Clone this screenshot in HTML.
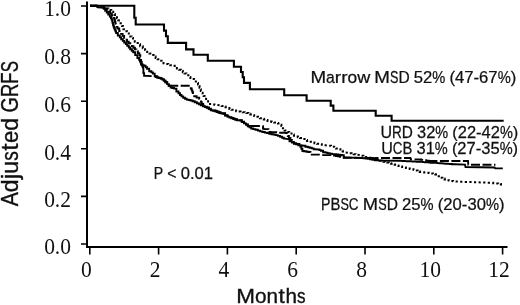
<!DOCTYPE html>
<html><head><meta charset="utf-8"><style>
html,body{margin:0;padding:0;background:#fff;width:520px;height:305px;overflow:hidden}
svg{display:block;will-change:transform}
.serif{font-family:"Liberation Serif",serif;font-size:21.5px;fill:#111}
.sans{font-family:"Liberation Sans",sans-serif;fill:#111}
</style></head><body>
<svg width="520" height="305" viewBox="0 0 520 305">
<g stroke="#000" fill="none" stroke-linecap="butt">
<path d="M 87 1.5 V 248" stroke-width="2"/>
<path d="M 86 247 H 507.5" stroke-width="1.8"/>
<path d="M 81 6.0 H 87 M 81 53.6 H 87 M 81 101.2 H 87 M 81 148.8 H 87 M 81 196.4 H 87 M 81 244.0 H 87" stroke-width="1.6"/>
<path d="M 89.8 247 V 254.5 M 158.6 247 V 254.5 M 227.4 247 V 254.5 M 296.2 247 V 254.5 M 365.0 247 V 254.5 M 433.8 247 V 254.5 M 502.6 247 V 254.5" stroke-width="1.6"/>
</g>
<g class="serif"><text transform="translate(71 15.5) scale(1 1.06)" text-anchor="end">1.0</text><text transform="translate(71 63.5) scale(1 1.06)" text-anchor="end">0.8</text><text transform="translate(71 111.7) scale(1 1.06)" text-anchor="end">0.6</text><text transform="translate(71 159.9) scale(1 1.06)" text-anchor="end">0.4</text><text transform="translate(71 206.8) scale(1 1.06)" text-anchor="end">0.2</text><text transform="translate(71 254.1) scale(1 1.06)" text-anchor="end">0.0</text><text transform="translate(86.3 277) scale(1 1.06)" text-anchor="middle">0</text><text transform="translate(155.1 277) scale(1 1.06)" text-anchor="middle">2</text><text transform="translate(223.9 277) scale(1 1.06)" text-anchor="middle">4</text><text transform="translate(292.7 277) scale(1 1.06)" text-anchor="middle">6</text><text transform="translate(361.5 277) scale(1 1.06)" text-anchor="middle">8</text><text transform="translate(430.3 277) scale(1 1.06)" text-anchor="middle">10</text><text transform="translate(499.1 277) scale(1 1.06)" text-anchor="middle">12</text></g>
<g fill="none" stroke="#000" stroke-linejoin="miter">
<path d="M 90.0 5.8 97.0 5.8 97.5 7.2 103.0 7.5 104.0 7.5 104.0 8.0 106.0 8.0 106.0 8.5 107.0 8.5 108.5 8.5 108.5 9.9 109.9 9.9 111.3 9.9 111.3 11.7 112.8 11.7 113.2 11.7 113.2 14.2 113.5 14.2 115.0 14.2 115.0 16.0 116.4 16.0 117.0 16.0 117.0 18.2 117.5 18.2 118.2 18.2 118.2 20.3 118.9 20.3 119.7 20.7 120.6 20.7 120.6 23.2 121.5 23.2 122.0 23.2 122.0 26.1 122.6 26.1 122.9 26.1 122.9 27.7 123.4 27.7 123.4 29.3 123.7 29.3 125.0 29.3 125.0 31.2 126.2 31.2 127.0 31.2 127.0 32.0 127.8 32.0 128.8 32.0 128.8 34.9 129.7 34.9 130.3 34.9 130.3 36.4 131.6 36.4 131.6 37.9 132.2 37.9 133.0 37.9 133.0 39.8 134.8 39.8 134.8 41.8 135.6 41.8 136.3 41.8 136.3 43.0 137.8 43.0 137.8 44.3 138.6 44.3 140.1 44.3 140.1 46.2 141.5 46.2 142.8 46.2 142.8 48.2 144.0 48.2 145.1 48.2 145.1 50.1 147.2 50.1 147.2 52.0 148.3 52.0 149.4 52.0 149.4 53.5 151.6 53.5 151.6 55.0 152.7 55.0 153.7 55.0 153.7 56.5 155.6 56.5 155.6 57.9 156.6 57.9 157.6 57.9 157.6 59.3 159.6 59.3 159.6 60.8 160.6 60.8 161.6 60.8 161.6 62.0 163.5 62.0 163.5 63.3 164.5 63.3 165.8 63.3 165.8 63.9 167.1 63.9 168.2 63.9 168.2 64.5 170.3 64.5 170.3 65.2 172.5 65.2 172.5 65.8 173.6 65.8 174.7 65.8 174.7 67.1 176.9 67.1 176.9 68.4 179.1 68.4 179.1 69.7 180.2 69.7 181.1 69.7 181.1 71.0 182.8 71.0 182.8 72.3 184.5 72.3 184.5 73.6 185.4 73.6 186.4 73.6 186.4 75.2 188.4 75.2 188.4 76.9 189.4 76.9 190.4 76.9 190.4 77.9 192.3 77.9 192.3 78.9 193.3 78.9 194.1 78.9 194.1 80.2 195.8 80.2 195.8 81.5 196.6 81.5 197.1 81.5 197.1 83.0 198.0 83.0 198.0 84.5 198.5 84.5 198.8 84.5 198.8 86.1 199.5 86.1 199.5 87.7 199.8 87.7 200.1 87.7 200.1 89.3 200.8 89.3 200.8 91.0 201.1 91.0 201.6 91.0 201.6 92.7 202.6 92.7 202.6 94.3 203.1 94.3 203.6 94.3 203.6 95.9 204.6 95.9 204.6 97.6 205.1 97.6 206.1 97.6 206.1 100.2 207.1 100.2 208.1 100.2 208.1 102.8 209.0 102.8 210.0 102.8 210.0 104.1 211.0 104.1 212.2 104.1 212.2 104.4 214.5 104.4 214.5 104.8 215.7 104.8 220.6 105.3 221.6 105.3 221.6 106.0 223.6 106.0 223.6 106.6 225.5 106.6 225.5 107.3 226.5 107.3 227.5 107.3 227.5 108.1 229.4 108.1 229.4 108.9 231.4 108.9 231.4 109.7 232.4 109.7 233.6 109.7 233.6 110.5 236.1 110.5 236.1 111.2 237.3 111.2 238.4 111.2 238.4 111.6 240.6 111.6 240.6 111.9 241.7 111.9 242.7 111.9 242.7 112.3 244.6 112.3 244.6 112.6 246.5 112.6 246.5 113.0 247.5 113.0 248.4 113.0 248.4 113.8 250.3 113.8 250.3 114.5 252.2 114.5 252.2 115.3 253.2 115.3 254.2 115.3 254.2 116.1 256.1 116.1 256.1 116.8 258.0 116.8 258.0 117.6 259.0 117.6 259.9 117.6 259.9 118.2 261.9 118.2 261.9 118.8 263.8 118.8 263.8 119.4 264.7 119.4 265.6 119.4 265.6 120.1 267.5 120.1 267.5 120.9 269.4 120.9 269.4 121.6 270.4 121.6 271.6 121.6 271.6 122.0 274.1 122.0 274.1 122.5 275.4 122.5 276.3 122.5 276.3 123.0 278.0 123.0 278.0 123.6 278.9 123.6 279.8 123.6 279.8 124.8 281.4 124.8 281.4 125.9 282.3 125.9 282.9 125.9 282.9 128.2 283.5 128.2 284.6 128.2 284.6 130.5 285.8 130.5 286.9 130.5 286.9 131.9 289.2 131.9 289.2 133.4 290.4 133.4 291.5 133.4 291.5 134.6 293.9 134.6 293.9 135.7 295.0 135.7 296.0 135.7 296.0 136.4 297.9 136.4 297.9 137.2 299.9 137.2 299.9 137.9 300.9 137.9 302.1 137.9 302.1 138.9 304.6 138.9 304.6 139.9 305.8 139.9 307.0 139.9 307.0 140.9 309.5 140.9 309.5 141.8 310.7 141.8 311.9 141.8 311.9 142.6 314.4 142.6 314.4 143.3 315.7 143.3 316.9 143.3 316.9 143.8 319.4 143.8 319.4 144.3 320.6 144.3 321.8 144.3 321.8 144.8 324.3 144.8 324.3 145.3 325.5 145.3 330.4 145.8 331.1 145.8 331.1 146.2 332.6 146.2 332.6 146.7 333.4 146.7 334.2 146.7 334.2 147.9 335.0 147.9 336.0 147.9 336.0 148.6 337.9 148.6 337.9 149.3 338.9 149.3 340.4 149.3 340.4 150.8 341.8 150.8 342.6 150.8 342.6 151.6 344.1 151.6 344.1 152.3 344.8 152.3 348.7 152.8 349.7 152.8 349.7 153.3 351.6 153.3 351.6 153.8 352.6 153.8 353.6 153.8 353.6 154.2 355.6 154.2 355.6 154.7 356.6 154.7 360.5 155.2 361.5 155.2 361.5 155.7 363.4 155.7 363.4 156.2 364.4 156.2 365.6 156.2 365.6 156.9 368.1 156.9 368.1 157.7 369.4 157.7 370.3 157.7 370.3 158.2 372.2 158.2 372.2 158.8 374.1 158.8 374.1 159.3 375.0 159.3 375.9 159.3 375.9 159.8 377.8 159.8 377.8 160.2 379.7 160.2 379.7 160.7 381.6 160.7 381.6 161.2 383.4 161.2 383.4 161.7 385.3 161.7 385.3 162.1 387.2 162.1 387.2 162.6 388.1 162.6 389.0 162.6 389.0 163.2 390.9 163.2 390.9 163.7 392.8 163.7 392.8 164.3 394.6 164.3 394.6 164.8 396.5 164.8 396.5 165.4 398.4 165.4 398.4 165.9 400.3 165.9 400.3 166.5 401.2 166.5 402.1 166.5 402.1 167.0 404.0 167.0 404.0 167.4 405.9 167.4 405.9 167.9 407.8 167.9 407.8 168.4 409.7 168.4 409.7 168.9 411.6 168.9 411.6 169.3 413.5 169.3 413.5 169.8 414.4 169.8 415.5 169.8 415.5 170.5 417.6 170.5 417.6 171.3 419.7 171.3 419.7 172.0 420.8 172.0 421.9 172.0 421.9 172.2 424.2 172.2 424.2 172.4 426.4 172.4 426.4 172.7 428.7 172.7 428.7 172.9 429.8 172.9 430.9 172.9 430.9 173.4 433.1 173.4 433.1 174.0 435.3 174.0 435.3 174.5 436.4 174.5 437.6 174.5 437.6 176.2 440.1 176.2 440.1 177.8 441.3 177.8 442.4 177.8 442.4 178.6 444.6 178.6 444.6 179.4 446.8 179.4 446.8 180.2 447.9 180.2 448.9 180.2 448.9 180.6 451.0 180.6 451.0 180.9 453.1 180.9 453.1 181.3 454.2 181.3 461.0 181.8 477.4 182.3 492.0 182.8 493.2 182.8 493.2 183.2 495.8 183.2 495.8 183.5 497.0 183.5 498.2 183.5 498.2 184.0 500.8 184.0 500.8 184.5 502.0 184.5" stroke-width="2" stroke-dasharray="2.2 2.4"/>
<path d="M 90.0 5.8 97.0 5.8 97.5 7.2 103.0 7.5 103.8 7.5 103.8 8.1 105.2 8.1 105.2 8.6 106.0 8.6 106.9 8.6 106.9 10.1 108.6 10.1 108.6 11.5 109.5 11.5 110.2 11.5 110.2 13.5 111.8 13.5 111.8 15.5 112.5 15.5 113.0 15.5 113.0 17.0 114.0 17.0 114.0 18.5 114.5 18.5 114.7 18.5 114.7 20.2 115.0 20.2 115.0 22.0 115.2 22.0 115.4 22.0 115.4 23.7 115.8 23.7 115.8 25.4 116.0 25.4 116.5 25.4 116.5 26.9 117.5 26.9 117.5 28.5 118.0 28.5 119.2 28.5 119.2 31.0 120.3 31.0 121.1 31.0 121.1 33.9 121.9 33.9 122.6 33.9 122.6 35.9 124.1 35.9 124.1 37.9 124.8 37.9 125.5 37.9 125.5 39.8 127.0 39.8 127.0 41.8 127.8 41.8 128.7 41.8 128.7 43.2 130.3 43.2 130.3 44.7 131.2 44.7 131.9 44.7 131.9 46.2 133.4 46.2 133.4 47.7 134.2 47.7 134.9 47.7 134.9 49.4 136.4 49.4 136.4 51.1 137.1 51.1 137.8 51.1 137.8 53.1 139.3 53.1 139.3 55.1 140.1 55.1 140.3 55.1 140.3 56.8 140.8 56.8 140.8 58.5 141.0 58.5 141.3 62.0" stroke-width="1.9" stroke-dasharray="9 2.5" stroke-dashoffset="0"/>
<path d="M 141.3 62.0 141.7 62.0 141.7 64.3 142.5 64.3 142.5 66.7 142.9 66.7 143.4 69.7 143.4 73.1 144.1 73.1 144.1 75.8 144.8 75.8 151.7 76.1" stroke-width="1.9"/>
<path d="M 151.7 76.1 155.0 76.5 155.9 76.5 155.9 77.0 157.7 77.0 157.7 77.6 158.6 77.6 159.3 77.6 159.3 78.0 160.8 78.0 160.8 78.5 161.6 78.5 162.3 78.5 162.3 79.5 163.8 79.5 163.8 80.6 164.6 80.6 165.4 80.6 165.4 82.3 167.2 82.3 167.2 84.0 168.0 84.0 168.6 84.0 168.6 85.8 169.2 85.8" stroke-width="1.9" stroke-dasharray="9 2.5" stroke-dashoffset="9"/>
<path d="M 169.2 85.8 189.0 85.8 189.7 85.8 189.7 86.5 190.4 86.5 190.8 86.5 190.8 88.5 191.7 88.5 191.7 90.4 192.1 90.4 192.4 90.4 192.4 92.2 193.0 92.2 193.0 94.0 193.3 94.0 194.2 94.0 194.2 96.3 195.2 96.3 196.6 96.3 196.6 97.6 197.9 97.6 199.2 97.6 199.2 98.9 200.5 98.9 201.1 102.2 201.8 102.2 201.8 104.0 203.2 104.0 203.2 105.8 203.9 105.8 204.9 105.8 204.9 106.7 206.8 106.7 206.8 107.5 207.8 107.5 208.8 107.5 208.8 108.7 210.8 108.7 210.8 109.8 211.8 109.8 212.8 109.8 212.8 110.3 214.7 110.3 214.7 110.8 215.7 110.8 216.7 110.8 216.7 111.5 218.6 111.5 218.6 112.3 219.6 112.3 220.6 112.3 220.6 112.8 222.6 112.8 222.6 113.3 223.6 113.3 225.1 113.3 225.1 115.2 226.5 115.2 227.5 115.2 227.5 116.2 229.4 116.2 229.4 117.2 230.4 117.2 231.4 117.2 231.4 118.0 233.4 118.0 233.4 118.7 234.4 118.7 235.3 118.7 235.3 119.2 237.1 119.2 237.1 119.8 238.0 119.8 240.6 120.2 241.8 120.2 241.8 121.6 244.0 121.6 244.0 123.0 245.2 123.0 246.0 123.0 246.0 124.4 247.8 124.4 247.8 125.8 248.6 125.8 250.9 126.0" stroke-width="1.9" stroke-dasharray="9 2.5" stroke-dashoffset="0"/>
<path d="M 250.9 126.0 260.1 126.0 262.4 126.2 263.0 126.2 263.0 128.5 263.6 128.5 264.1 129.1 267.6 129.1 268.5 129.1 268.5 132.0 269.3 132.0 270.3 132.0 270.3 132.1 272.2 132.1 272.2 132.2 274.2 132.2 274.2 132.3 276.2 132.3 276.2 132.4 278.1 132.4 278.1 132.6 280.1 132.6 280.1 132.7 282.1 132.7 282.1 132.8 284.1 132.8 284.1 132.9 286.0 132.9 286.0 133.0 287.0 133.0 287.3 133.0 287.3 134.5 287.8 134.5 287.8 136.0 288.1 136.0 288.9 136.0 288.9 138.0 290.4 138.0 290.4 140.0 291.9 140.0 291.9 142.0 292.7 142.0 293.9 142.0 293.9 143.2 296.1 143.2 296.1 144.3 297.3 144.3 298.2 144.3 298.2 145.4 300.0 145.4 300.0 146.5 300.9 146.5 301.4 146.5 301.4 148.8 302.4 148.8 302.4 151.0 302.9 151.0" stroke-width="1.9" stroke-dasharray="9 2.5" stroke-dashoffset="0"/>
<path d="M 302.9 151.0 304.0 151.0 304.0 151.3 306.4 151.3 306.4 151.7 308.6 151.7 308.6 152.0 309.8 152.0 310.5 152.0 310.5 154.6 311.2 154.6 319.6 154.6 323.5 155.1 333.0 155.1 334.0 155.1 334.0 155.5 335.9 155.5 335.9 156.0 337.9 156.0 337.9 156.4 339.9 156.4 339.9 156.8 341.9 156.8 341.9 157.3 343.8 157.3 343.8 157.7 344.8 157.7 375.0 158.0" stroke-width="1.9" stroke-dasharray="9 2.5" stroke-dashoffset="0"/>
<path d="M 375.0 158.0 410.4 158.0 410.8 159.3 420.0 159.5 421.2 159.5 421.2 159.9 423.8 159.9 423.8 160.3 425.0 160.3 426.2 160.3 426.2 160.7 428.8 160.7 428.8 161.0 430.0 161.0" stroke-width="1.9" stroke-dasharray="9 2.5" stroke-dashoffset="5.5"/>
<path d="M 430.0 161.0 468.0 161.0 468.3 164.7 495.4 164.7" stroke-width="1.9" stroke-dasharray="9 2.5" stroke-dashoffset="1.6"/>
<path d="M 90.0 5.8 97.0 5.8 97.5 7.2 103.0 7.5 103.8 7.5 103.8 8.8 104.5 8.8 105.2 8.8 105.2 10.7 106.8 10.7 106.8 12.5 107.5 12.5 108.2 12.5 108.2 14.5 109.8 14.5 109.8 16.5 110.5 16.5 110.9 16.5 110.9 18.0 111.6 18.0 111.6 19.5 112.0 19.5 112.2 19.5 112.2 21.2 112.6 21.2 112.6 23.0 112.8 23.0 113.0 23.0 113.0 24.8 113.5 24.8 113.5 26.5 113.8 26.5 114.1 26.5 114.1 28.0 114.7 28.0 114.7 29.5 115.0 29.5 115.4 29.5 115.4 31.2 116.1 31.2 116.1 33.0 116.5 33.0 117.8 33.0 117.8 35.5 119.0 35.5 119.8 35.5 119.8 37.4 121.2 37.4 121.2 39.3 122.0 39.3 122.8 39.3 122.8 40.9 124.2 40.9 124.2 42.5 125.0 42.5 125.8 42.5 125.8 44.1 127.2 44.1 127.2 45.8 128.0 45.8 128.8 45.8 128.8 47.5 130.2 47.5 130.2 49.2 131.0 49.2 131.8 49.2 131.8 50.7 133.2 50.7 133.2 52.2 134.0 52.2 135.2 52.2 135.2 55.1 136.3 55.1 137.4 55.1 137.4 58.0 138.6 58.0 139.1 58.0 139.1 59.8 140.0 59.8 140.0 61.5 140.5 61.5 141.0 64.5 141.9 64.5 141.9 65.2 143.9 65.2 143.9 65.8 144.8 65.8 145.6 65.8 145.6 67.2 147.1 67.2 147.1 68.7 147.8 68.7 149.2 68.7 149.2 71.2 150.7 71.2 151.4 71.2 151.4 72.4 152.9 72.4 152.9 73.6 153.7 73.6 154.7 73.6 154.7 76.1 155.7 76.1 157.1 76.1 157.1 77.6 158.6 77.6 159.3 77.6 159.3 78.0 160.8 78.0 160.8 78.5 161.6 78.5 162.3 78.5 162.3 79.5 163.8 79.5 163.8 80.6 164.6 80.6 165.4 80.6 165.4 82.3 167.2 82.3 167.2 84.1 168.0 84.1 168.9 84.1 168.9 85.8 170.6 85.8 170.6 87.5 171.5 87.5 172.3 87.5 172.3 88.0 174.1 88.0 174.1 88.6 174.9 88.6 176.4 88.6 176.4 91.5 177.8 91.5 178.5 91.5 178.5 93.2 180.0 93.2 180.0 95.0 180.7 95.0 181.5 95.0 181.5 96.4 183.2 96.4 183.2 97.8 184.1 97.8 185.0 97.8 185.0 98.7 186.7 98.7 186.7 99.6 187.6 99.6 188.6 99.6 188.6 100.0 190.5 100.0 190.5 100.5 191.5 100.5 192.6 100.5 192.6 101.3 194.8 101.3 194.8 102.2 195.9 102.2 196.9 102.2 196.9 103.2 198.8 103.2 198.8 104.2 199.8 104.2 200.8 104.2 200.8 105.2 202.9 105.2 202.9 106.3 203.9 106.3 204.9 106.3 204.9 107.0 206.8 107.0 206.8 107.8 207.8 107.8 208.8 107.8 208.8 109.0 210.8 109.0 210.8 110.2 211.8 110.2 212.8 110.2 212.8 110.7 214.7 110.7 214.7 111.2 215.7 111.2 216.7 111.2 216.7 112.0 218.6 112.0 218.6 112.7 219.6 112.7 220.6 112.7 220.6 113.2 222.6 113.2 222.6 113.7 223.6 113.7 225.1 113.7 225.1 115.6 226.5 115.6 227.5 115.6 227.5 116.6 229.4 116.6 229.4 117.6 230.4 117.6 231.4 117.6 231.4 118.3 233.4 118.3 233.4 119.1 234.4 119.1 235.3 119.1 235.3 119.7 237.1 119.7 237.1 120.2 238.0 120.2 240.6 120.5 241.8 120.5 241.8 122.0 244.0 122.0 244.0 123.4 245.2 123.4 246.0 123.4 246.0 124.8 247.8 124.8 247.8 126.2 248.6 126.2 249.5 126.2 249.5 127.3 251.2 127.3 251.2 128.5 252.1 128.5 253.2 128.5 253.2 129.1 255.5 129.1 255.5 129.7 256.7 129.7 257.9 129.7 257.9 130.6 260.1 130.6 260.1 131.4 261.3 131.4 262.4 131.4 262.4 132.0 264.8 132.0 264.8 132.6 265.9 132.6 267.0 132.6 267.0 133.1 269.3 133.1 269.3 133.7 270.4 133.7 271.4 133.7 271.4 134.2 273.5 134.2 273.5 134.6 275.6 134.6 275.6 135.1 276.6 135.1 277.8 135.1 277.8 135.9 280.1 135.9 280.1 136.8 281.2 136.8 282.1 136.8 282.1 137.7 283.8 137.7 283.8 138.5 284.6 138.5 288.1 139.1 289.5 139.1 289.5 141.4 290.9 141.4 291.9 141.4 291.9 142.6 294.0 142.6 294.0 143.7 295.0 143.7 298.0 144.0 299.4 144.0 299.4 145.3 300.9 145.3 303.9 145.8 305.4 145.8 305.4 146.7 306.8 146.7 307.8 146.7 307.8 147.2 309.7 147.2 309.7 147.7 310.7 147.7 311.7 147.7 311.7 148.4 313.7 148.4 313.7 149.2 314.7 149.2 318.6 149.5 319.4 149.5 319.4 150.1 320.9 150.1 320.9 150.7 321.6 150.7 323.1 150.7 323.1 152.2 324.5 152.2 325.5 152.2 325.5 152.6 327.4 152.6 327.4 153.1 328.4 153.1 329.6 153.1 329.6 153.6 332.1 153.6 332.1 154.1 333.4 154.1 334.3 154.1 334.3 154.3 336.2 154.3 336.2 154.5 338.1 154.5 338.1 154.8 340.0 154.8 340.0 155.0 341.9 155.0 341.9 155.2 342.8 155.2 343.8 155.2 343.8 157.5 344.8 157.5 358.5 157.9 364.4 158.2 365.5 158.2 365.5 158.5 367.9 158.5 367.9 158.9 370.1 158.9 370.1 159.2 371.3 159.2 372.5 159.2 372.5 159.7 375.0 159.7 375.0 160.2 376.2 160.2 384.0 160.6 397.5 160.7 398.5 160.7 398.5 160.8 400.6 160.8 400.6 160.9 402.6 160.9 402.6 161.0 404.7 161.0 404.7 161.1 406.7 161.1 406.7 161.2 408.8 161.2 408.8 161.3 410.8 161.3 410.8 161.4 412.8 161.4 412.8 161.5 414.9 161.5 414.9 161.6 416.9 161.6 416.9 161.7 419.0 161.7 419.0 161.8 420.0 161.8 421.0 161.8 421.0 161.9 423.0 161.9 423.0 162.1 425.0 162.1 425.0 162.2 427.0 162.2 427.0 162.4 429.0 162.4 429.0 162.5 430.0 162.5 431.0 162.5 431.0 162.7 433.1 162.7 433.1 162.8 435.2 162.8 435.2 162.9 437.3 162.9 437.3 163.1 439.4 163.1 439.4 163.2 441.5 163.2 441.5 163.4 443.5 163.4 443.5 163.6 445.6 163.6 445.6 163.7 447.7 163.7 447.7 163.9 449.8 163.9 449.8 164.0 451.9 164.0 451.9 164.2 454.0 164.2 454.0 164.3 455.0 164.3 465.0 164.6 465.5 167.0 494.7 167.5 495.2 168.4 502.8 168.4" stroke-width="1.9"/>
<path d="M 90 5.7 H 134.3 V 17.7 H 135.7 V 24.5 H 164 V 30.6 H 166 V 36.3 H 167.8 V 42.9 H 186.1 V 49.4 H 193.5 V 54.8 H 207.8 V 60.7 H 233.9 V 66.8 H 241 V 72 H 242.7 V 77.3 H 244 V 82.9 H 249.9 V 89.2 H 284.2 V 95.2 H 306.6 V 100.7 H 330.7 V 105.6 H 333.4 V 110.8 H 375.7 V 115.7 H 391.6 V 120.8 H 503.7" stroke-width="2.1"/>
</g>
<g class="sans" stroke="#111" stroke-width="0.25" text-anchor="middle">
<text transform="translate(318.22 82.6) scale(1.144 1)" font-size="16.4">M</text><text transform="translate(330.41 82.6) scale(0.960 1)" font-size="16.4">a</text><text transform="translate(337.97 82.6) scale(1.150 1)" font-size="16.4">r</text><text transform="translate(344.34 82.6) scale(1.150 1)" font-size="16.4">r</text><text transform="translate(352.35 82.6) scale(1.056 1)" font-size="16.4">o</text><text transform="translate(363.69 82.6) scale(1.102 1)" font-size="16.4">w</text><text transform="translate(382.16 82.6) scale(1.144 1)" font-size="16.4">M</text><text transform="translate(394.17 82.6) scale(0.768 1)" font-size="16.4">S</text><text transform="translate(403.99 82.6) scale(0.949 1)" font-size="16.4">D</text><text transform="translate(418.37 82.6) scale(1.015 1)" font-size="16.4">5</text><text transform="translate(427.63 82.6) scale(1.015 1)" font-size="16.4">2</text><text transform="translate(438.78 82.6) scale(0.895 1)" font-size="16.4">%</text><text transform="translate(452.21 82.6) scale(1.014 1)" font-size="16.4">(</text><text transform="translate(459.61 82.6) scale(1.015 1)" font-size="16.4">4</text><text transform="translate(468.87 82.6) scale(1.015 1)" font-size="16.4">7</text><text transform="translate(476.30 82.6) scale(1.024 1)" font-size="16.4">-</text><text transform="translate(483.73 82.6) scale(1.015 1)" font-size="16.4">6</text><text transform="translate(492.99 82.6) scale(1.015 1)" font-size="16.4">7</text><text transform="translate(504.15 82.6) scale(0.895 1)" font-size="16.4">%</text><text transform="translate(513.44 82.6) scale(1.014 1)" font-size="16.4">)</text>
<text transform="translate(386.21 138.3) scale(0.991 1)" font-size="16.2">U</text><text transform="translate(396.91 138.3) scale(0.838 1)" font-size="16.2">R</text><text transform="translate(407.37 138.3) scale(0.950 1)" font-size="16.2">D</text><text transform="translate(421.58 138.3) scale(1.016 1)" font-size="16.2">3</text><text transform="translate(430.74 138.3) scale(1.016 1)" font-size="16.2">2</text><text transform="translate(441.77 138.3) scale(0.896 1)" font-size="16.2">%</text><text transform="translate(455.04 138.3) scale(1.015 1)" font-size="16.2">(</text><text transform="translate(462.35 138.3) scale(1.016 1)" font-size="16.2">2</text><text transform="translate(471.51 138.3) scale(1.016 1)" font-size="16.2">2</text><text transform="translate(478.85 138.3) scale(1.025 1)" font-size="16.2">-</text><text transform="translate(486.19 138.3) scale(1.016 1)" font-size="16.2">4</text><text transform="translate(495.35 138.3) scale(1.016 1)" font-size="16.2">2</text><text transform="translate(506.38 138.3) scale(0.896 1)" font-size="16.2">%</text><text transform="translate(515.56 138.3) scale(1.015 1)" font-size="16.2">)</text>
<text transform="translate(387.03 154.3) scale(0.994 1)" font-size="16.2">U</text><text transform="translate(397.67 154.3) scale(0.826 1)" font-size="16.2">C</text><text transform="translate(407.43 154.3) scale(0.912 1)" font-size="16.2">B</text><text transform="translate(421.05 154.3) scale(1.020 1)" font-size="16.2">3</text><text transform="translate(430.24 154.3) scale(1.020 1)" font-size="16.2">1</text><text transform="translate(441.31 154.3) scale(0.899 1)" font-size="16.2">%</text><text transform="translate(454.62 154.3) scale(1.019 1)" font-size="16.2">(</text><text transform="translate(461.96 154.3) scale(1.020 1)" font-size="16.2">2</text><text transform="translate(471.15 154.3) scale(1.020 1)" font-size="16.2">7</text><text transform="translate(478.52 154.3) scale(1.029 1)" font-size="16.2">-</text><text transform="translate(485.88 154.3) scale(1.020 1)" font-size="16.2">3</text><text transform="translate(495.07 154.3) scale(1.020 1)" font-size="16.2">5</text><text transform="translate(506.14 154.3) scale(0.899 1)" font-size="16.2">%</text><text transform="translate(515.36 154.3) scale(1.019 1)" font-size="16.2">)</text>
<text transform="translate(325.73 210.3) scale(0.890 1)" font-size="15.9">P</text><text transform="translate(335.42 210.3) scale(0.937 1)" font-size="15.9">B</text><text transform="translate(344.59 210.3) scale(0.792 1)" font-size="15.9">S</text><text transform="translate(353.66 210.3) scale(0.848 1)" font-size="15.9">C</text><text transform="translate(370.47 210.3) scale(1.150 1)" font-size="15.9">M</text><text transform="translate(382.48 210.3) scale(0.792 1)" font-size="15.9">S</text><text transform="translate(392.29 210.3) scale(0.979 1)" font-size="15.9">D</text><text transform="translate(406.67 210.3) scale(1.047 1)" font-size="15.9">2</text><text transform="translate(415.93 210.3) scale(1.047 1)" font-size="15.9">5</text><text transform="translate(427.09 210.3) scale(0.923 1)" font-size="15.9">%</text><text transform="translate(440.52 210.3) scale(1.046 1)" font-size="15.9">(</text><text transform="translate(447.92 210.3) scale(1.047 1)" font-size="15.9">2</text><text transform="translate(457.18 210.3) scale(1.047 1)" font-size="15.9">0</text><text transform="translate(464.60 210.3) scale(1.056 1)" font-size="15.9">-</text><text transform="translate(472.03 210.3) scale(1.047 1)" font-size="15.9">3</text><text transform="translate(481.29 210.3) scale(1.047 1)" font-size="15.9">0</text><text transform="translate(492.45 210.3) scale(0.923 1)" font-size="15.9">%</text><text transform="translate(501.74 210.3) scale(1.046 1)" font-size="15.9">)</text>
<text transform="translate(158.52 178.8) scale(0.876 1)" font-size="16.1">P</text><text transform="translate(171.95 178.8) scale(0.981 1)" font-size="16.1">&lt;</text><text transform="translate(185.29 178.8) scale(1.030 1)" font-size="16.1">0</text><text transform="translate(192.20 178.8) scale(1.027 1)" font-size="16.1">.</text><text transform="translate(199.12 178.8) scale(1.030 1)" font-size="16.1">0</text><text transform="translate(208.34 178.8) scale(1.030 1)" font-size="16.1">1</text>
<text transform="translate(245.64 302.7) scale(1.147 1)" font-size="19.6" stroke-width="0.35">M</text><text transform="translate(260.78 302.7) scale(1.060 1)" font-size="19.6" stroke-width="0.35">o</text><text transform="translate(272.31 302.7) scale(1.056 1)" font-size="19.6" stroke-width="0.35">n</text><text transform="translate(281.73 302.7) scale(1.150 1)" font-size="19.6" stroke-width="0.35">t</text><text transform="translate(291.15 302.7) scale(1.056 1)" font-size="19.6" stroke-width="0.35">h</text><text transform="translate(301.19 302.7) scale(0.874 1)" font-size="19.6" stroke-width="0.35">s</text>
<g transform="translate(18.3 206.2) rotate(-90)"><text transform="translate(6.97 0) scale(0.924 1)" font-size="23" stroke-width="0.35">A</text><text transform="translate(20.49 0) scale(1.006 1)" font-size="23" stroke-width="0.35">d</text><text transform="translate(29.74 0) scale(1.100 1)" font-size="23" stroke-width="0.35">j</text><text transform="translate(38.98 0) scale(1.006 1)" font-size="23" stroke-width="0.35">u</text><text transform="translate(50.21 0) scale(0.833 1)" font-size="23" stroke-width="0.35">s</text><text transform="translate(59.10 0) scale(1.150 1)" font-size="23" stroke-width="0.35">t</text><text transform="translate(69.30 0) scale(0.953 1)" font-size="23" stroke-width="0.35">e</text><text transform="translate(81.83 0) scale(1.006 1)" font-size="23" stroke-width="0.35">d</text><text transform="translate(101.54 0) scale(0.864 1)" font-size="23" stroke-width="0.35">G</text><text transform="translate(115.92 0) scale(0.801 1)" font-size="23" stroke-width="0.35">R</text><text transform="translate(128.19 0) scale(0.801 1)" font-size="23" stroke-width="0.35">F</text><text transform="translate(139.45 0) scale(0.734 1)" font-size="23" stroke-width="0.35">S</text></g>
</g>
</svg>
</body></html>
